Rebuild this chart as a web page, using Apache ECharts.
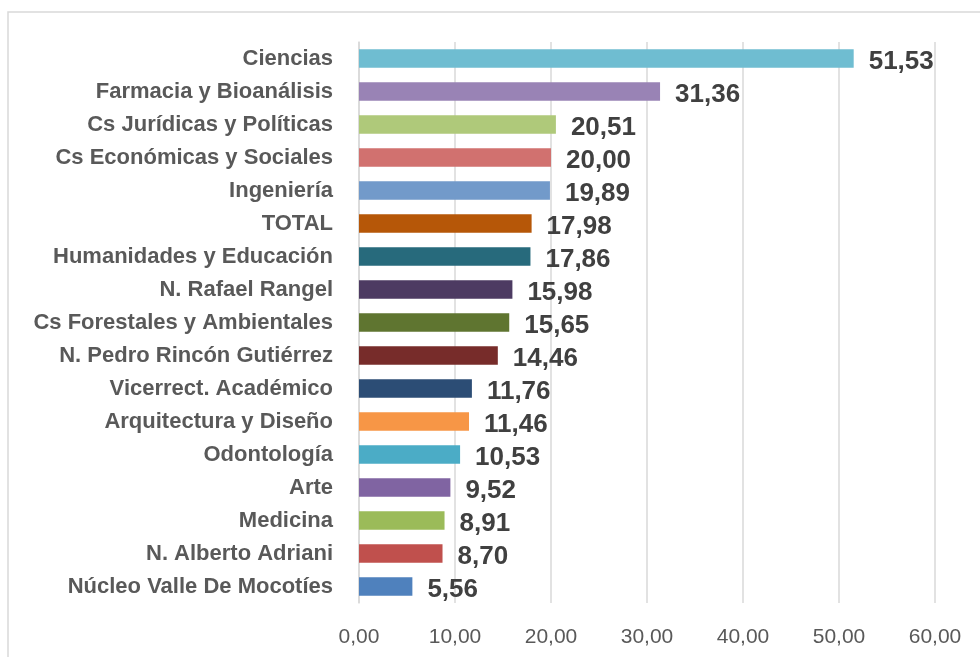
<!DOCTYPE html>
<html>
<head>
<meta charset="utf-8">
<script src="https://cdn.jsdelivr.net/npm/echarts@6/dist/echarts.min.js"></script>
<style>
  html, body { margin: 0; padding: 0; background: #ffffff; }
  #chart { width: 980px; height: 657px; }
</style>
</head>
<body>
<div id="chart"></div>
<script>
// categories bottom -> top (as drawn on the category axis)
var categories = [
  'Núcleo Valle De Mocotíes', 'N. Alberto Adriani', 'Medicina', 'Arte',
  'Odontología', 'Arquitectura y Diseño', 'Vicerrect. Académico',
  'N. Pedro Rincón Gutiérrez', 'Cs Forestales y Ambientales', 'N. Rafael Rangel',
  'Humanidades y Educación', 'TOTAL', 'Ingeniería', 'Cs Económicas y Sociales',
  'Cs Jurídicas y Políticas', 'Farmacia y Bioanálisis', 'Ciencias'
];
var values = [5.56, 8.70, 8.91, 9.52, 10.53, 11.46, 11.76, 14.46, 15.65, 15.98,
  17.86, 17.98, 19.89, 20.00, 20.51, 31.36, 51.53];
var barColors = [
  '#4F81BD', '#C0504D', '#9BBB59', '#8064A2', '#4BACC6', '#F79646', '#2C4D75',
  '#772C2A', '#5F7530', '#4D3B62', '#276A7C', '#B65708', '#729ACA', '#D1716F',
  '#AFC97A', '#9983B5', '#6FBDD1'
];
var xTicks = [0, 10, 20, 30, 40, 50, 60];

function fmt(v) { return v.toFixed(2).replace('.', ','); }

var myChart = echarts.init(document.getElementById('chart'));

var option = {
  backgroundColor: '#ffffff',
  animation: false,
  graphic: [{
    type: 'rect',
    shape: { x: 8, y: 12, width: 1000, height: 700 },
    style: { fill: 'none', stroke: '#D9D9D9', lineWidth: 1.5 },
    silent: true
  }],
  grid: { left: 359, right: 45, top: 42, bottom: 54, containLabel: false },
  xAxis: {
    type: 'value',
    min: xTicks[0],
    max: xTicks[xTicks.length - 1],
    interval: 10,
    axisLine: { show: false },
    axisTick: { show: false },
    splitLine: { lineStyle: { color: '#D9D9D9', width: 1.5 } },
    axisLabel: {
      formatter: function (v) { return fmt(v); },
      color: '#595959',
      fontFamily: 'Liberation Sans',
      fontSize: 21,
      margin: 24
    }
  },
  yAxis: {
    type: 'category',
    data: categories,
    axisLine: { show: true, lineStyle: { color: '#D9D9D9', width: 1.5 } },
    axisTick: { show: false },
    axisLabel: {
      color: '#595959',
      fontFamily: 'Liberation Sans',
      fontWeight: 'bold',
      fontSize: 22,
      margin: 26
    }
  },
  series: [{
    type: 'bar',
    data: values.map(function (v, i) {
      return { value: v, itemStyle: { color: barColors[i] } };
    }),
    barCategoryGap: '44%',
    label: {
      show: true,
      position: 'right',
      distance: 15,
      offset: [0, 3],
      formatter: function (p) { return fmt(p.value); },
      color: '#404040',
      fontFamily: 'Liberation Sans',
      fontWeight: 'bold',
      fontSize: 26
    }
  }]
};

myChart.setOption(option);

window.onresize = function () {
  myChart.resize();
};
</script>
</body>
</html>
